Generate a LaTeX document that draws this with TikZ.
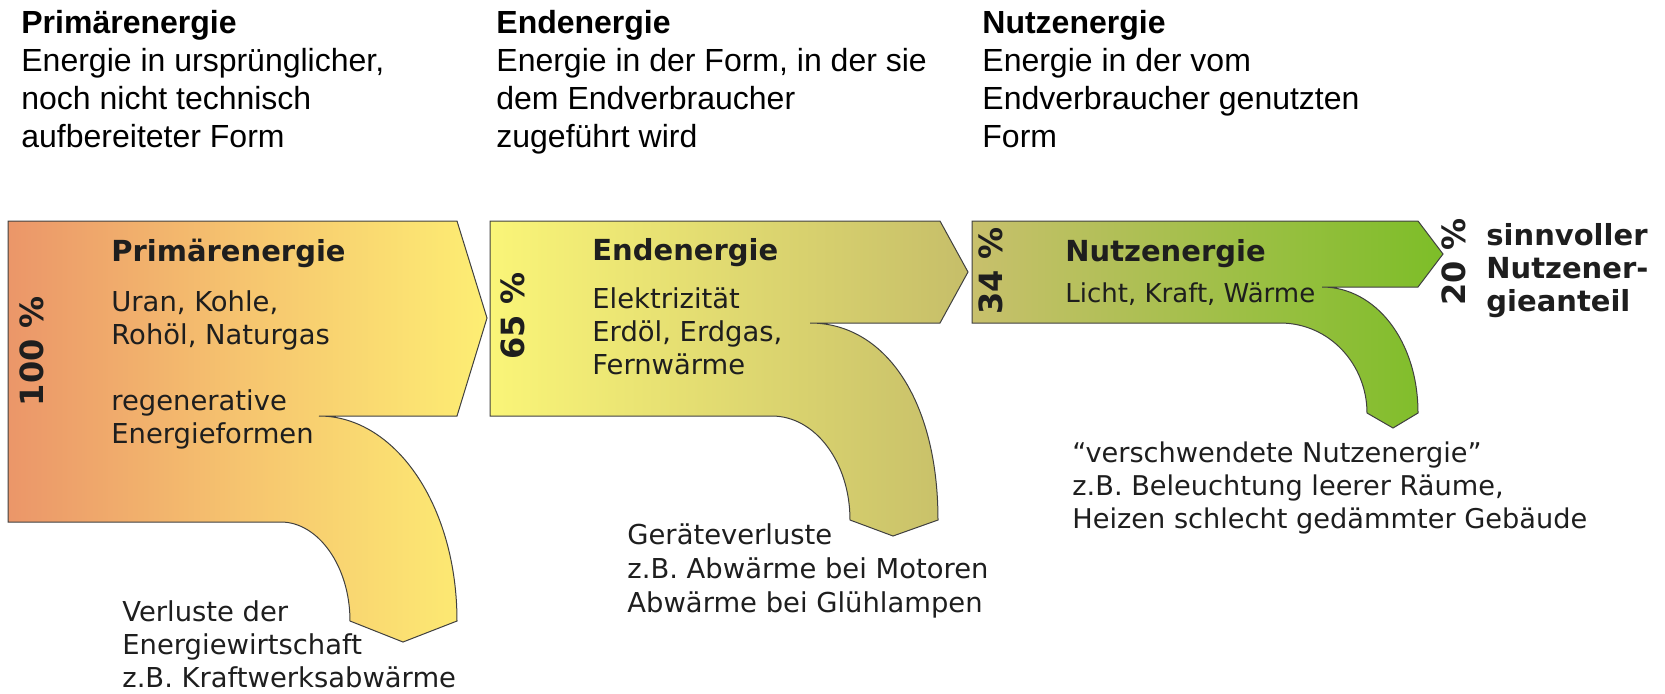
\documentclass[tikz,border=0pt]{standalone}
\usepackage{fontspec}
\setmainfont{Liberation Sans}
\newfontfamily\verdana{DejaVu Sans}
\usetikzlibrary{positioning}

\definecolor{primleft}{HTML}{EB9669}
\definecolor{primmid}{HTML}{F6C56F}
\definecolor{primright}{HTML}{FDEE73}
\definecolor{endleft}{HTML}{FAF578}
\definecolor{endright}{HTML}{C6BE69}
\definecolor{nutzleft}{HTML}{C8C06C}
\definecolor{nutzright}{HTML}{7DBE28}
\definecolor{inktext}{HTML}{1E1E1E}

% multi-line nodes are placed by the baseline of their last line
\tikzset{
    flowbox/.style={draw=black!75, line width=0.5pt, line join=miter},
    header/.style={anchor=base west, align=left, inner sep=0pt, text=black,
        font=\fontsize{16}{19}\selectfont},
    boxtitle/.style={anchor=base west, inner sep=0pt, text=inktext,
        font=\verdana\bfseries\fontsize{14.5}{16}\selectfont},
    boxtext/.style={anchor=base west, align=left, inner sep=0pt, text=inktext,
        font=\verdana\fontsize{13.7}{16.5}\selectfont},
    percent/.style={rotate=90, inner sep=0pt, text=inktext,
        font=\verdana\bfseries\fontsize{16}{16}\selectfont}
}

\begin{document}
\begin{tikzpicture}[x=0.5pt, y=-0.5pt]
    \useasboundingbox (0,0) rectangle (1665,693);

    % Headers above the flow
    \node[header] (hprim) at (21,147) {\textbf{Primärenergie}\\
        Energie in ursprünglicher,\\ noch nicht technisch\\ aufbereiteter Form};
    \node[header] (hend) at (496,147) {\textbf{Endenergie}\\
        Energie in der Form, in der sie\\ dem Endverbraucher\\ zugeführt wird};
    \node[header] (hnutz) at (982,147) {\textbf{Nutzenergie}\\
        Energie in der vom\\ Endverbraucher genutzten\\ Form};

    % Primary energy arrow with loss branch
    \draw[flowbox, left color=primleft, right color=primright, middle color=primmid]
        (8,221) -- (457,221) -- (487,318) -- (457,416) -- (319,416)
        .. controls (395,416) and (457,505) .. (457,621)
        -- (403,642) -- (350,621)
        .. controls (350,566) and (318,522) .. (281,522)
        -- (8,522) -- cycle;

    % Final energy arrow with loss branch
    \draw[flowbox, left color=endleft, right color=endright]
        (490,221) -- (940,221) -- (968,272) -- (940,323) -- (810,323)
        .. controls (885,323) and (938,400) .. (938,520)
        -- (893,536) -- (850,520)
        .. controls (850,462) and (815,416) .. (772,416)
        -- (490,416) -- cycle;

    % Useful energy arrow with loss branch
    \draw[flowbox, left color=nutzleft, right color=nutzright]
        (972,221) -- (1418,221) -- (1443,254) -- (1418,287) -- (1322,287)
        .. controls (1375,287) and (1418,340) .. (1418,413)
        -- (1393,428) -- (1367,413)
        .. controls (1367,365) and (1330,323) .. (1280,323)
        -- (972,323) -- cycle;

    % Percentages
    \node[percent] (p100) at (32,351) {100 \%};
    \node[percent] (p65) at (513,316) {65 \%};
    \node[percent] (p34) at (991,271) {34 \%};
    \node[percent] (p20) at (1454,262) {20 \%};

    % Texts inside the arrows
    \node[boxtitle] (tprim) at (111,261) {Primärenergie};
    \node[boxtext] (bprim) at (111,443) {Uran, Kohle,\\ Rohöl, Naturgas\\[16.5pt]
        regenerative\\ Energieformen};
    \node[boxtitle] (tend) at (592,260) {Endenergie};
    \node[boxtext] (bend) at (592,374) {Elektrizität\\ Erdöl, Erdgas,\\ Fernwärme};
    \node[boxtitle] (tnutz) at (1065,261) {Nutzenergie};
    \node[boxtext, font=\verdana\fontsize{13}{16}\selectfont] (bnutz) at (1065,302)
        {Licht, Kraft, Wärme};

    % Losses
    \node[boxtext] (lprim) at (122,687) {Verluste der\\ Energiewirtschaft\\
        z.B. Kraftwerksabwärme};
    \node[boxtext, font=\verdana\fontsize{13.7}{17}\selectfont] (lend) at (627,612)
        {Geräteverluste\\ z.B. Abwärme bei Motoren\\ Abwärme bei Glühlampen};
    \node[boxtext, font=\verdana\fontsize{13.6}{16.5}\selectfont] (lnutz) at (1072,528)
        {“verschwendete Nutzenergie”\\ z.B. Beleuchtung leerer Räume,\\
        Heizen schlecht gedämmter Gebäude};

    % Useful share
    \node[boxtext, font=\verdana\bfseries\fontsize{14.5}{16.5}\selectfont] (sinn) at (1486,311)
        {sinnvoller\\ Nutzener-\\ gieanteil};

\end{tikzpicture}
\end{document}
